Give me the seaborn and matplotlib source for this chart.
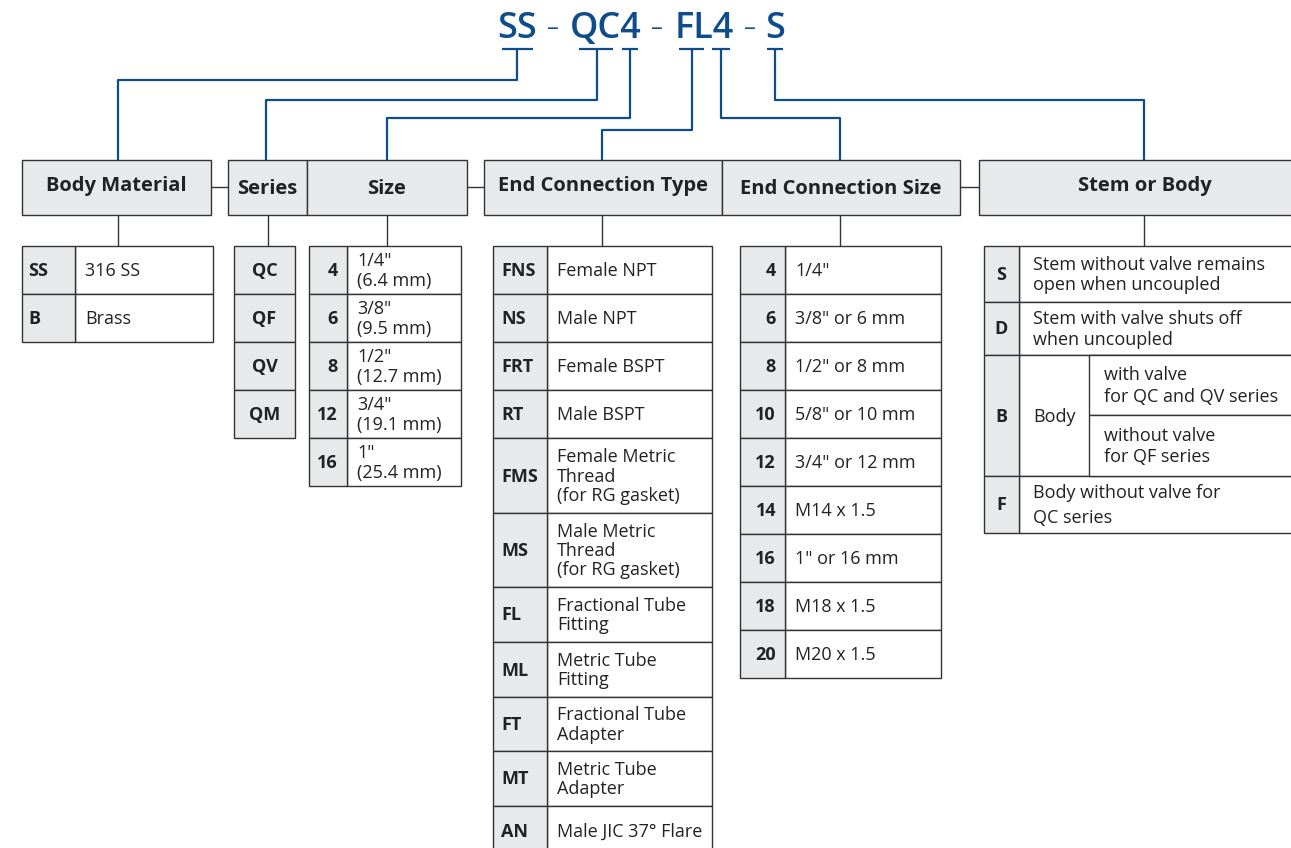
import matplotlib
matplotlib.use("Agg")
import matplotlib.pyplot as plt
from matplotlib.patches import Rectangle
import seaborn as sns

# ---- data ----
title_parts = ["SS", "\u2013", "QC4", "\u2013", "FL4", "\u2013", "S"]

headers = ["Body Material", "Series", "Size", "End Connection Type",
           "End Connection Size", "Stem or Body"]

body_codes = ["SS", "B"]
body_desc = ["316 SS", "Brass"]

series_codes = ["QC", "QF", "QV", "QM"]

size_codes = ["4", "6", "8", "12", "16"]
size_desc = ['1/4"\n(6.4 mm)', '3/8"\n(9.5 mm)', '1/2"\n(12.7 mm)',
             '3/4"\n(19.1 mm)', '1"\n(25.4 mm)']

ect_codes = ["FNS", "NS", "FRT", "RT", "FMS", "MS", "FL", "ML", "FT", "MT", "AN"]
ect_desc = ["Female NPT", "Male NPT", "Female BSPT", "Male BSPT",
            "Female Metric\nThread\n(for RG gasket)",
            "Male Metric\nThread\n(for RG gasket)",
            "Fractional Tube\nFitting", "Metric Tube\nFitting",
            "Fractional Tube\nAdapter", "Metric Tube\nAdapter",
            "Male JIC 37\u00b0 Flare"]

ecs_codes = ["4", "6", "8", "10", "12", "14", "16", "18", "20"]
ecs_desc = ['1/4"', '3/8" or 6 mm', '1/2" or 8 mm', '5/8" or 10 mm',
            '3/4" or 12 mm', "M14 x 1.5", '1" or 16 mm', "M18 x 1.5", "M20 x 1.5"]

stem_codes = ["S", "D", "B", "F"]
stem_desc = ["Stem without valve remains\nopen when uncoupled",
             "Stem with valve shuts off\nwhen uncoupled",
             "Body",
             "Body without valve for\nQC series"]
stem_body_sub = ["with valve\nfor QC and QV series", "without valve\nfor QF series"]

# ---- style ----
sns.set_theme(style="white")
plt.rcParams["font.family"] = ["Open Sans", "DejaVu Sans"]

BLUE = "#0f4c8c"
GRAY = "#e8e9eb"
EDGE = "#333333"
TXT = "#222222"
LW = 1.0
FS = 13

fig = plt.figure(figsize=(12.91, 8.48), dpi=100)
ax = fig.add_axes([0, 0, 1, 1])
ax.set_xlim(0, 1291)
ax.set_ylim(848, 0)
ax.axis("off")


def box(x0, y0, x1, y1, fc):
    ax.add_patch(Rectangle((x0, y0), x1 - x0, y1 - y0, facecolor=fc,
                           edgecolor=EDGE, linewidth=LW, zorder=2))


def line(xs, ys, color=EDGE, lw=LW):
    ax.plot(xs, ys, color=color, linewidth=lw, solid_capstyle="butt", zorder=1)


# ---- title ----
title_x = [517, 553, 606, 657, 704, 750, 775]
for txt, x in zip(title_parts, title_x):
    dash = txt == "\u2013"
    ax.text(x, 29, txt, ha="center", va="center", color=BLUE,
            fontsize=17 if dash else 26, fontweight="normal" if dash else "semibold")

# tee marks + blue connectors
tees = [(502, 533, 517), (579, 613, 597), (622, 638, 630),
        (679, 704, 692), (712, 730, 721), (767, 783, 775)]
for a, b, c in tees:
    line([a, b], [49, 49], BLUE, 1.6)
connectors = [(517, 80, 118), (597, 100, 266), (630, 118, 387),
              (692, 130, 602), (721, 118, 840), (775, 100, 1144)]
for xs, yb, xt in connectors:
    line([xs, xs, xt, xt], [49, yb, yb, 160], BLUE, 1.6)

# ---- header boxes ----
hy0, hy1 = 160, 215
header_x = [(22, 211), (228, 307), (307, 467), (484, 722), (722, 960), (979, 1300)]
header_y = [186, 189, 189, 186, 189, 186]
for name, (a, b), ty in zip(headers, header_x, header_y):
    box(a, hy0, b, hy1, GRAY)
    cx = (a + b) / 2 if b < 1291 else (a + 1310) / 2
    ax.text(cx, ty, name, ha="center", va="center", fontsize=14.5,
            fontweight="bold", color=TXT, zorder=3)
for a, b in [(211, 228), (467, 484), (960, 979)]:
    line([a, b], [187, 187])
for cx in [118, 268, 387, 602, 840, 1144]:
    line([cx, cx], [hy1, 246])


def table(x0, xc, x1, y0, heights, codes, descs, code_ha="left", code_x=None,
          desc_dx=10, spacing=1.1):
    y = y0
    for i, h in enumerate(heights):
        if descs is not None:
            box(xc, y, x1, y + h, "white")
        box(x0, y, xc, y + h, GRAY)
        cx = code_x if code_x is not None else (x0 + xc) / 2
        ax.text(cx, y + h / 2 + 1, codes[i], ha=code_ha, va="center",
                fontsize=FS, fontweight="bold", color=TXT, zorder=3)
        if descs is not None and descs[i]:
            ax.text(xc + desc_dx, y + h / 2 + 1, descs[i], ha="left", va="center",
                    fontsize=FS, color=TXT, linespacing=spacing, zorder=3)
        y += h


# Body material
table(22, 75, 213, 246, [48, 48], body_codes, body_desc, code_x=28)
# Series
table(234, 295, 295, 246, [48] * 4, series_codes, None, code_ha="center")
# Size
table(309, 347, 461, 246, [48] * 5, size_codes, size_desc, code_ha="right",
      code_x=338)
# End connection type
table(493, 547, 712, 246, [48, 48, 48, 48, 75, 74, 55, 55, 54, 55, 50],
      ect_codes, ect_desc, code_x=501)
# End connection size
table(740, 785, 941, 246, [48] * 9, ecs_codes, ecs_desc, code_ha="right",
      code_x=776)

# Stem or body
sx0, sxc, sx1 = 984, 1019, 1300
rows = [(246, 302), (302, 355), (355, 476), (476, 533)]
for code, desc, (ya, yb) in zip(stem_codes, stem_desc, rows):
    box(sxc, ya, sx1, yb, "white")
    box(sx0, ya, sxc, yb, GRAY)
    ax.text((sx0 + sxc) / 2, (ya + yb) / 2 + 1, code, ha="center", va="center",
            fontsize=FS, fontweight="bold", color=TXT, zorder=3)
    sp = 1.45 if code == "F" else 1.15
    ax.text(sxc + 14, (ya + yb) / 2 + 1, desc, ha="left", va="center",
            fontsize=FS, color=TXT, linespacing=sp, zorder=3)
for sub, (ya, yb) in zip(stem_body_sub, [(355, 415), (415, 476)]):
    box(1089, ya, sx1, yb, "white")
    ax.text(1104, (ya + yb) / 2 + 1, sub, ha="left", va="center",
            fontsize=FS, color=TXT, linespacing=1.28, zorder=3)

fig.savefig("out.png", dpi=100, facecolor="white")
